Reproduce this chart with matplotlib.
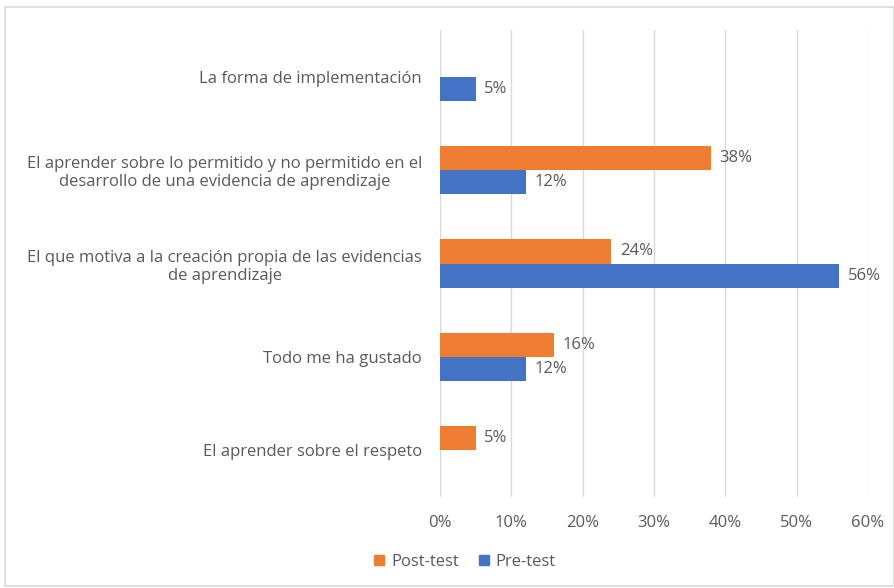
import matplotlib.pyplot as plt
from matplotlib.patches import Rectangle
import numpy as np

categories = [
    "La forma de implementación",
    "El aprender sobre lo permitido y no permitido en el\ndesarrollo de una evidencia de aprendizaje",
    "El que motiva a la creación propia de las evidencias\nde aprendizaje",
    "Todo me ha gustado",
    "El aprender sobre el respeto",
]
post_test = [None, 38, 24, 16, 5]
pre_test = [5, 12, 56, 12, None]
x_ticks = [0, 10, 20, 30, 40, 50, 60]

ORANGE = "#ED7D31"
BLUE = "#4472C4"
TEXT = "#595959"
FS = 12

plt.rcParams["font.family"] = ["Open Sans", "DejaVu Sans"]

fig = plt.figure(figsize=(8.95, 5.88), dpi=100)
ax = fig.add_axes([440 / 895, 1 - 497 / 588, 428 / 895, 467 / 588])

# chart frame
fig.patches.append(Rectangle((5 / 895, 0.003), 889 / 895, 1 - 7 / 588 - 0.003,
                             transform=fig.transFigure, fill=False,
                             edgecolor="#d9d9d9", linewidth=1.2))

y = np.arange(len(categories))
h = 0.26
for i, (po, pr) in enumerate(zip(post_test, pre_test)):
    if po is not None:
        ax.barh(i - h / 2, po, height=h, color=ORANGE)
        ax.text(po + 1.2, i - h / 2, f"{po}%", va="center", ha="left",
                fontsize=FS, color=TEXT)
    if pr is not None:
        ax.barh(i + h / 2, pr, height=h, color=BLUE)
        ax.text(pr + 1.2, i + h / 2, f"{pr}%", va="center", ha="left",
                fontsize=FS, color=TEXT)

ax.set_xlim(0, 60)
ax.set_ylim(len(categories) - 0.5, -0.5)
ax.set_xticks(x_ticks)
ax.set_xticklabels([f"{t}%" for t in x_ticks], fontsize=FS, color=TEXT)
ax.set_yticks(y)
ax.set_yticklabels(categories, fontsize=FS, color=TEXT, ha="right",
                   multialignment="center", linespacing=1.2)
ax.tick_params(axis="both", length=0, pad=13)
ax.tick_params(axis="x", pad=13)
ax.grid(axis="x", color="#d9d9d9", linewidth=1)
ax.set_axisbelow(True)
for s in ax.spines.values():
    s.set_visible(False)

handles = [Rectangle((0, 0), 1, 1, color=ORANGE), Rectangle((0, 0), 1, 1, color=BLUE)]
fig.legend(handles, ["Post-test", "Pre-test"], loc="center",
           bbox_to_anchor=(465 / 895, 1 - 562 / 588), ncol=2, frameon=False,
           fontsize=FS, labelcolor=TEXT, handlelength=0.6, handleheight=0.6,
           handletextpad=0.4, columnspacing=1.2)

fig.savefig("out.png", dpi=100)
